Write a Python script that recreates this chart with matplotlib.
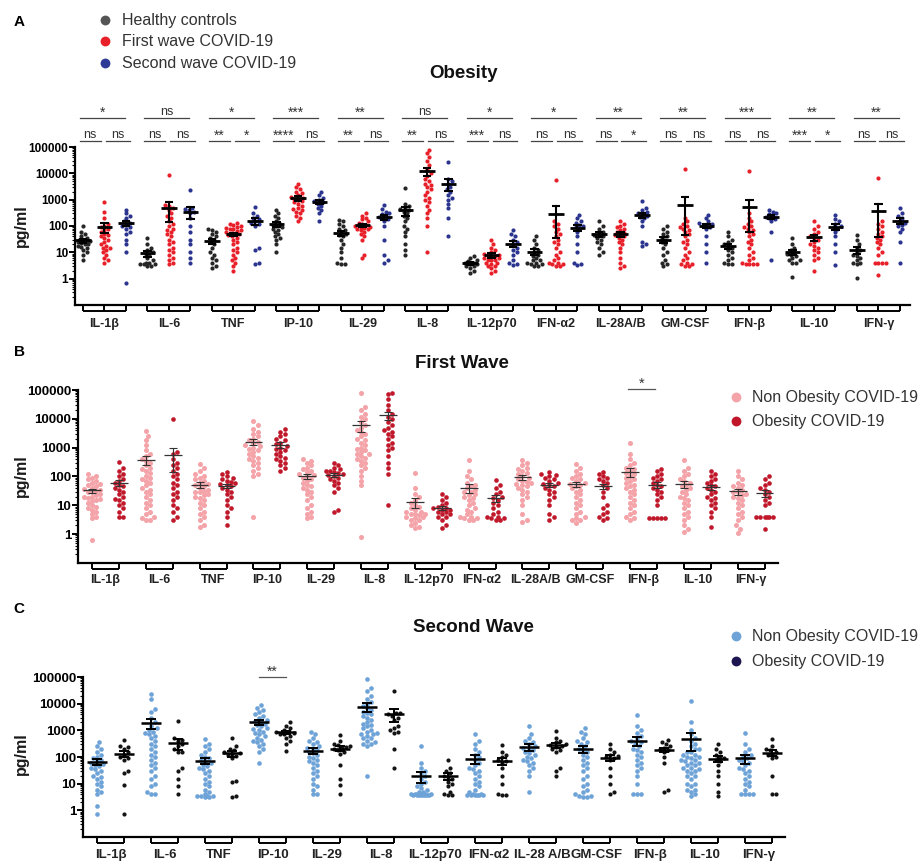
import numpy as np
import matplotlib
matplotlib.use('Agg')
import matplotlib.pyplot as plt
from matplotlib.ticker import FixedLocator, FixedFormatter, LogLocator, NullFormatter

plt.rcParams['font.family'] = ['Liberation Sans', 'DejaVu Sans']

# ---------------- data (pg/ml) ----------------
cytokines = ['IL-1β', 'IL-6', 'TNF', 'IP-10', 'IL-29', 'IL-8', 'IL-12p70',
             'IFN-α2', 'IL-28A/B', 'GM-CSF', 'IFN-β', 'IL-10', 'IFN-γ']
cytokines_c = ['IL-1β', 'IL-6', 'TNF', 'IP-10', 'IL-29', 'IL-8', 'IL-12p70',
               'IFN-α2', 'IL-28 A/B', 'GM-CSF', 'IFN-β', 'IL-10', 'IFN-γ']

sig_a_top = ['*', 'ns', '*', '***', '**', 'ns', '*', '*', '**', '**', '***', '**', '**']
sig_a_left = ['ns', 'ns', '**', '****', '**', '**', '***', 'ns', 'ns', 'ns', 'ns', '***', 'ns']
sig_a_right = ['ns', 'ns', '*', 'ns', 'ns', 'ns', 'ns', 'ns', '*', 'ns', 'ns', '*', 'ns']

# panel A: healthy / first wave / second wave (obese)
a_healthy = [
    [100, 60, 50, 40, 35, 30, 30, 28, 25, 25, 22, 20, 20, 18, 16, 15, 12, 10, 8, 5],
    [35, 20, 15, 12, 10, 9, 8, 6, 5, 4, 4, 3.5, 3.5, 3.5, 3, 3],
    [80, 70, 60, 50, 40, 35, 30, 25, 20, 15, 10, 8, 6, 5, 4, 3, 2.5],
    [420, 300, 250, 200, 150, 120, 110, 100, 90, 80, 70, 60, 50, 40, 35, 30, 20, 10],
    [170, 150, 120, 100, 80, 70, 60, 50, 45, 40, 30, 20, 15, 10, 6, 4, 3.5, 3.5],
    [2800, 700, 600, 500, 450, 400, 350, 300, 250, 200, 150, 100, 80, 60, 40, 20, 12, 8],
    [7, 6, 5, 4.5, 4, 4, 3.5, 3.5, 3, 3, 2.5, 2, 1.6],
    [40, 30, 20, 15, 12, 10, 8, 7, 6, 5, 5, 4, 4, 3.5, 3.5, 3, 3],
    [150, 100, 80, 60, 50, 45, 40, 35, 30, 25, 20, 15, 10, 8],
    [100, 80, 60, 50, 40, 35, 30, 25, 20, 15, 10, 8, 5, 4, 3.5, 3],
    [60, 40, 30, 25, 20, 18, 15, 12, 10, 8, 6, 5, 4, 3.5, 3.5],
    [35, 20, 15, 12, 10, 9, 8, 7, 6, 5, 5, 4, 4, 1.2],
    [47, 30, 20, 15, 12, 10, 8, 7, 6, 5, 4, 4, 3.5, 1.1],
]
a_first = [
    [850, 350, 200, 120, 100, 90, 80, 70, 60, 50, 45, 40, 35, 30, 25, 20, 18, 15, 15, 12, 10, 8, 6, 5, 4],
    [9000, 650, 600, 500, 400, 300, 250, 200, 150, 120, 100, 80, 70, 60, 50, 40, 30, 25, 20, 15, 12, 10, 8, 6, 5, 4, 3.5],
    [130, 120, 110, 100, 90, 85, 80, 75, 70, 65, 60, 55, 50, 50, 45, 40, 35, 30, 25, 20, 15, 12, 10, 8, 6, 5, 4, 3, 2],
    [4000, 3000, 2500, 2000, 1800, 1500, 1300, 1200, 1100, 1000, 900, 800, 700, 600, 500, 450, 400, 350, 300, 250, 200, 150],
    [300, 250, 200, 180, 150, 130, 120, 110, 100, 95, 90, 85, 80, 75, 70, 60, 50, 40, 30, 8, 6],
    [80000, 60000, 40000, 30000, 20000, 15000, 10000, 8000, 6000, 5000, 4000, 3500, 3000, 2500, 2000, 1500, 1200, 1000, 800, 600, 400, 300, 200, 100, 10],
    [30, 20, 15, 12, 10, 9, 8, 8, 7, 7, 6, 6, 5, 5, 5, 4, 4, 3.5, 3, 3, 2.5, 2, 1.7],
    [5700, 150, 120, 100, 80, 60, 50, 40, 30, 25, 20, 15, 10, 8, 6, 5, 4, 4, 3.5, 3.5, 3, 3],
    [150, 120, 100, 90, 80, 70, 60, 55, 50, 45, 40, 35, 30, 25, 20, 15, 10, 6, 4, 3, 2.5],
    [14500, 200, 150, 120, 100, 90, 80, 70, 60, 50, 40, 30, 25, 20, 15, 10, 8, 6, 5, 4, 3.5, 3.5, 3, 3],
    [12000, 300, 200, 150, 120, 100, 90, 80, 70, 60, 50, 40, 30, 25, 20, 15, 10, 8, 6, 5, 4, 3.5, 3.5, 3.5, 3.5],
    [150, 100, 80, 60, 50, 40, 35, 30, 25, 20, 18, 15, 12, 10, 8, 6, 5, 2],
    [6600, 150, 120, 100, 80, 60, 50, 40, 35, 30, 25, 20, 15, 10, 8, 4, 4, 4, 4, 1.4],
]
a_second = [
    [420, 300, 250, 200, 150, 130, 110, 100, 90, 80, 60, 50, 30, 20, 10, 0.7],
    [2400, 500, 450, 400, 350, 300, 200, 100, 60, 30, 20, 10, 6, 4],
    [550, 300, 250, 200, 180, 150, 130, 120, 100, 15, 12, 4, 3.5],
    [2000, 1500, 1200, 1000, 900, 800, 700, 600, 500, 400, 300, 150],
    [640, 450, 350, 300, 280, 250, 220, 200, 180, 150, 100, 30, 8, 5, 4],
    [28000, 6000, 5000, 4000, 3000, 2500, 2000, 1500, 1200, 1000, 700, 500, 200, 40],
    [70, 50, 40, 30, 25, 20, 15, 12, 10, 8, 5, 4, 3.5, 3.4],
    [270, 200, 150, 130, 110, 100, 90, 80, 60, 40, 20, 10, 4, 3.5, 3.4],
    [860, 500, 400, 350, 300, 280, 250, 220, 200, 150, 100, 25, 20, 17],
    [270, 200, 150, 130, 120, 110, 100, 90, 80, 40, 20, 10, 4],
    [420, 350, 300, 280, 250, 220, 200, 180, 150, 60, 5],
    [270, 180, 150, 120, 100, 90, 80, 60, 40, 20, 10, 3.4],
    [480, 300, 250, 200, 150, 130, 110, 100, 80, 60, 25, 4],
]

# panel B: first wave, non obese / obese
b_non = [
    [120, 100, 90, 80, 70, 60, 55, 50, 45, 40, 38, 35, 32, 30, 28, 25, 22, 20, 20, 18, 16, 15, 14, 12, 10, 9, 8, 7, 6, 5, 4, 3.5, 0.65],
    [3900, 2500, 1800, 1200, 800, 600, 500, 400, 350, 300, 250, 200, 180, 150, 130, 100, 90, 80, 70, 60, 50, 40, 35, 30, 25, 20, 15, 12, 10, 8, 6, 5, 4, 3.5, 3, 3],
    [280, 200, 150, 120, 100, 90, 80, 70, 60, 55, 50, 45, 40, 35, 32, 30, 28, 25, 22, 20, 18, 15, 12, 10, 8, 6, 5, 4, 3, 2, 1.8],
    [8500, 6000, 4500, 3500, 3000, 2500, 2000, 1800, 1600, 1400, 1200, 1100, 1000, 900, 800, 700, 600, 500, 450, 400, 350, 300, 250, 200, 150, 120, 100, 4],
    [400, 350, 300, 250, 200, 180, 160, 140, 120, 110, 100, 90, 80, 70, 60, 50, 45, 40, 35, 30, 25, 20, 15, 10, 8, 6, 5, 4, 3.5],
    [80000, 25000, 20000, 15000, 12000, 10000, 8000, 6000, 5000, 4000, 3500, 3000, 2500, 2000, 1800, 1500, 1200, 1000, 900, 800, 700, 600, 600, 500, 450, 400, 350, 300, 250, 200, 150, 100, 70, 50, 0.8],
    [130, 40, 25, 20, 15, 12, 10, 9, 8, 7, 6, 6, 5, 5, 5, 4.5, 4, 4, 3.5, 3, 3, 2.5, 2, 1.8, 1.6],
    [370, 150, 100, 80, 60, 50, 45, 40, 35, 30, 28, 25, 22, 20, 18, 15, 12, 10, 8, 7, 6, 5, 4, 4, 3.5, 3.5, 3, 3],
    [370, 300, 250, 200, 180, 150, 130, 120, 100, 90, 80, 70, 65, 60, 55, 50, 45, 40, 35, 30, 25, 20, 15, 10, 5, 3, 2.7],
    [280, 200, 150, 120, 100, 90, 80, 70, 60, 55, 50, 45, 40, 35, 30, 25, 20, 15, 12, 10, 8, 6, 5, 4, 3.5, 3, 3, 2.5],
    [1450, 600, 400, 300, 250, 200, 180, 150, 130, 120, 100, 90, 80, 70, 60, 50, 45, 40, 35, 30, 25, 20, 15, 12, 10, 8, 6, 5, 4, 3.5, 3],
    [370, 200, 150, 120, 100, 80, 70, 60, 50, 45, 40, 35, 30, 25, 20, 18, 15, 12, 10, 8, 6, 5, 4, 3, 2, 1.5, 1.2],
    [150, 100, 80, 60, 50, 45, 40, 35, 30, 28, 25, 22, 20, 18, 15, 12, 10, 8, 6, 5, 4, 3, 2, 1.5, 1.1],
]
b_ob = [
    [320, 200, 150, 120, 100, 80, 70, 60, 50, 45, 40, 35, 30, 25, 20, 16, 15, 12, 10, 8, 6, 4, 4],
    [9600, 700, 600, 400, 300, 250, 200, 150, 120, 100, 80, 60, 50, 40, 30, 25, 20, 15, 10, 8, 6, 4, 3],
    [140, 120, 100, 90, 80, 70, 65, 60, 55, 50, 45, 40, 35, 30, 25, 20, 15, 10, 8, 6, 4, 2],
    [4500, 3500, 3000, 2500, 2000, 1800, 1500, 1300, 1100, 1000, 900, 800, 700, 600, 500, 450, 400, 350, 300, 250, 200, 150],
    [300, 250, 200, 180, 160, 150, 140, 130, 120, 110, 100, 90, 80, 70, 60, 50, 40, 30, 7, 6],
    [80000, 75000, 50000, 30000, 20000, 15000, 12000, 10000, 8000, 6000, 5000, 4000, 3500, 3000, 2500, 2000, 1500, 1200, 1000, 800, 500, 300, 200, 120, 10],
    [25, 20, 15, 12, 10, 9, 8, 8, 7, 7, 6, 6, 5, 5, 4, 4, 3, 2, 1.6],
    [75, 50, 40, 30, 25, 20, 18, 15, 12, 10, 8, 6, 5, 4, 4, 3.5, 3.5, 3, 3],
    [140, 120, 110, 100, 90, 80, 70, 60, 55, 50, 45, 40, 35, 30, 25, 20, 15, 10, 5, 4, 3],
    [140, 120, 100, 90, 80, 70, 60, 50, 40, 30, 20, 10, 8, 6, 5, 4, 3.5, 3],
    [175, 150, 120, 100, 90, 80, 70, 60, 50, 45, 40, 35, 30, 25, 20, 15, 10, 3.5, 3.5, 3.5, 3.5, 3.5],
    [150, 120, 100, 80, 70, 60, 50, 45, 40, 35, 30, 25, 20, 18, 15, 12, 10, 8, 6, 4, 1.8],
    [100, 80, 60, 50, 40, 35, 30, 25, 20, 15, 12, 10, 4, 4, 4, 4, 4, 4, 1.5],
]

# panel C: second wave, non obese / obese
c_non = [
    [350, 250, 200, 150, 120, 100, 90, 80, 70, 60, 55, 50, 45, 40, 35, 30, 25, 20, 18, 15, 12, 10, 8, 6, 5, 4, 1.5, 0.7],
    [23000, 15000, 6500, 5000, 3000, 2000, 1500, 1200, 1000, 900, 800, 700, 600, 500, 400, 300, 250, 200, 150, 120, 100, 80, 60, 50, 40, 30, 20, 15, 10, 8, 5, 4, 4],
    [490, 300, 250, 200, 150, 120, 100, 90, 80, 70, 60, 50, 45, 40, 35, 30, 25, 20, 15, 12, 10, 8, 6, 5, 4, 3.5, 3.5, 3.5, 3.5, 3.2, 3.2],
    [9000, 7000, 6000, 5000, 4000, 3500, 3000, 2500, 2200, 2000, 1800, 1600, 1400, 1200, 1100, 1000, 900, 800, 700, 600, 500, 450, 400, 350, 300, 250, 200, 150, 60],
    [900, 700, 500, 400, 350, 300, 250, 220, 200, 180, 160, 140, 120, 100, 90, 80, 70, 60, 50, 40, 30, 25, 20, 15, 10, 8, 6, 4, 4],
    [85000, 40000, 30000, 20000, 15000, 12000, 10000, 8000, 7000, 6000, 5000, 4500, 4000, 3500, 3000, 2500, 2000, 1800, 1600, 1400, 1200, 1000, 900, 800, 700, 700, 600, 500, 500, 400, 350, 300, 300, 250, 20],
    [250, 60, 40, 30, 25, 20, 15, 12, 10, 8, 7, 6, 5, 5, 4, 4, 4, 4, 4, 4, 3.8, 3.8, 3.8, 3.8, 3.8, 3.6, 3.6, 3.6],
    [750, 400, 300, 200, 150, 120, 100, 80, 60, 50, 40, 35, 30, 25, 20, 15, 12, 10, 8, 6, 5, 4, 4, 3.6, 3.6, 3.6, 3.6, 3.6, 3.6],
    [1400, 700, 500, 400, 350, 300, 250, 220, 200, 180, 160, 140, 120, 100, 90, 80, 70, 60, 50, 40, 30, 20, 5],
    [1200, 900, 700, 500, 400, 350, 300, 250, 200, 180, 150, 120, 100, 80, 60, 50, 40, 30, 20, 15, 10, 8, 6, 5, 4, 3.5, 3.5, 3.2, 3.2],
    [3600, 1500, 1000, 800, 600, 500, 400, 350, 300, 250, 200, 180, 150, 120, 100, 80, 60, 50, 40, 30, 20, 10, 4, 4, 4],
    [13000, 2000, 1000, 700, 500, 400, 300, 250, 200, 200, 150, 150, 120, 120, 100, 100, 90, 80, 80, 70, 60, 60, 50, 50, 40, 40, 35, 30, 30, 25, 20, 20, 15, 10, 10, 8, 6, 6, 5, 4, 3.5],
    [800, 300, 200, 150, 120, 100, 90, 80, 70, 60, 50, 40, 35, 30, 25, 20, 15, 12, 10, 8, 6, 4, 4, 4, 4],
]
c_ob = [
    [420, 250, 230, 200, 150, 120, 100, 90, 80, 30, 25, 9, 0.7],
    [2200, 500, 450, 400, 300, 250, 200, 150, 150, 40, 30, 15, 8, 4],
    [530, 250, 200, 180, 150, 140, 130, 120, 110, 90, 13, 12, 3.5, 3.3],
    [2000, 1500, 1200, 1000, 900, 850, 800, 750, 700, 600, 500, 400, 300, 170],
    [650, 400, 300, 280, 250, 230, 220, 200, 180, 150, 130, 50, 15, 9, 4],
    [30000, 4500, 4500, 4000, 3500, 3000, 2500, 1500, 1200, 1000, 900, 800, 200, 40],
    [75, 40, 30, 25, 20, 18, 15, 12, 10, 8, 5, 4, 3.6, 3.6],
    [270, 150, 120, 100, 80, 70, 60, 40, 20, 10, 4, 3.6, 3.6],
    [950, 500, 400, 350, 300, 280, 250, 230, 200, 180, 150, 40, 30, 20],
    [300, 200, 150, 120, 110, 100, 90, 80, 40, 20, 10, 5, 4],
    [420, 350, 300, 250, 220, 200, 180, 150, 100, 60, 6, 5],
    [300, 200, 150, 120, 100, 90, 80, 70, 50, 30, 20, 10, 5, 3.4],
    [490, 250, 200, 180, 150, 130, 120, 100, 90, 20, 4, 4],
]

# ---------------- figure ----------------
W, H = 921, 863
fig = plt.figure(figsize=(W / 100, H / 100), dpi=100)


def px_axes(left, top, right, bottom):
    return fig.add_axes([left / W, 1 - bottom / H, (right - left) / W, (bottom - top) / H])


def style_axis(ax, xlim, npos, ylab_fs):
    ax.set_yscale('log')
    ax.set_ylim(0.1, 1e5)
    ax.set_xlim(*xlim)
    for s in ['top', 'right']:
        ax.spines[s].set_visible(False)
    for s in ['left', 'bottom']:
        ax.spines[s].set_linewidth(1.6)
    ax.yaxis.set_major_locator(FixedLocator([1, 10, 100, 1000, 10000, 100000]))
    ax.yaxis.set_major_formatter(FixedFormatter(['1', '10', '100', '1000', '10000', '100000']))
    ax.yaxis.set_minor_locator(LogLocator(base=10, subs=np.arange(2, 10) * 1.0, numticks=20))
    ax.yaxis.set_minor_formatter(NullFormatter())
    ax.tick_params(axis='y', which='major', length=4, width=1.4, labelsize=ylab_fs, pad=1)
    ax.tick_params(axis='y', which='minor', length=2, width=0.8)
    ax.set_xticks(range(npos))
    ax.set_xticklabels([])
    ax.tick_params(axis='x', length=4.5, width=1.4)
    for lab in ax.get_yticklabels():
        lab.set_fontweight('bold')
    ax.patch.set_alpha(0)


def group_brackets(ax, groups, labels, ax_h_px, label_dy, fs):
    yb = -6.2 / ax_h_px
    for pos, lab in zip(groups, labels):
        ax.plot([pos[0], pos[-1]], [yb, yb], color='k', lw=1.4,
                transform=ax.get_xaxis_transform(), clip_on=False, solid_capstyle='butt')
        ax.annotate(lab, xy=(np.mean(pos), 0), xycoords=ax.get_xaxis_transform(),
                    xytext=(0, -label_dy), textcoords='offset points',
                    ha='center', va='center', fontsize=fs, fontweight='bold', color='#222222')


def swarm(ax, xc, vals, color, d_px, half_px, size):
    v = np.sort(np.asarray(vals, dtype=float))
    pts = ax.transData.transform(np.column_stack([np.full(len(v), xc), v]))
    x0 = pts[0, 0]
    step = d_px * 0.5
    cands = [0.0]
    k = 1
    while k * step <= half_px:
        cands += [k * step, -k * step]
        k += 1
    placed = []
    offs = []
    for y in pts[:, 1]:
        chosen = None
        best, best_md = 0.0, -1
        near = [(px, py) for px, py in placed if abs(y - py) < d_px]
        for c in cands:
            md = min([np.hypot(c - px, y - py) for px, py in near], default=1e9)
            if md >= d_px:
                chosen = c
                break
            if md > best_md:
                best, best_md = c, md
        if chosen is None:
            chosen = best
        placed.append((chosen, y))
        offs.append(chosen)
    xy = ax.transData.inverted().transform(np.column_stack([x0 + np.array(offs), pts[:, 1]]))
    ax.scatter(xy[:, 0], v, s=size, c=color, linewidths=0, zorder=3, clip_on=False)


def mean_sem(ax, xc, vals, half_w, cap_w, lw, color, elw):
    v = np.asarray(vals, dtype=float)
    m = v.mean()
    se = v.std(ddof=1) / np.sqrt(len(v))
    lo = m - se if m - se > 0 else m * 0.6
    hi = m + se
    ax.plot([xc - half_w, xc + half_w], [m, m], color=color, lw=lw, zorder=5, solid_capstyle='butt')
    ax.plot([xc, xc], [lo, hi], color=color, lw=elw, zorder=5)
    for yy in (lo, hi):
        ax.plot([xc - cap_w, xc + cap_w], [yy, yy], color=color, lw=elw, zorder=5, solid_capstyle='butt')


# ---------------- panel A ----------------
axA = px_axes(75, 147, 910, 305)
style_axis(axA, (-0.37, 38.47), 39, 8.5)
colA = ['#262626', '#E8202A', '#2B3590']
for i in range(13):
    for j, series in enumerate([a_healthy, a_first, a_second]):
        xc = 3 * i + j
        swarm(axA, xc, series[i], colA[j], 3.6, 8.5, 9)
        mean_sem(axA, xc, series[i], 0.36, 0.2, 2.0, 'black', 1.5)
group_brackets(axA, [[3 * i, 3 * i + 1, 3 * i + 2] for i in range(13)], cytokines, 158, 14, 9)

xt = axA.get_xaxis_transform()
y1 = 1 + 29 / 158
y2 = 1 + 6 / 158
for i in range(13):
    p0, p1, p2 = 3 * i, 3 * i + 1, 3 * i + 2
    segs = [(p0 - 0.15, p2 - 0.05, y1, sig_a_top[i]),
            (p0 - 0.15, p1 - 0.18, y2, sig_a_left[i]),
            (p1 + 0.05, p2 + 0.2, y2, sig_a_right[i])]
    for xa, xb, yy, lab in segs:
        axA.plot([xa, xb], [yy, yy], color='#444444', lw=0.9, transform=xt, clip_on=False)
        if lab == 'ns':
            axA.annotate(lab, xy=((xa + xb) / 2, yy), xycoords=xt, xytext=(0, 0.3),
                         textcoords='offset points', ha='center', va='bottom',
                         fontsize=9, color='#333333')
        else:
            axA.annotate(lab, xy=((xa + xb) / 2, yy), xycoords=xt, xytext=(0, -1.5),
                         textcoords='offset points', ha='center', va='bottom',
                         fontsize=10, color='#333333')

# ---------------- panel B ----------------
axB = px_axes(78, 390, 778, 563)
style_axis(axB, (-0.52, 25.5), 26, 9.5)
colB = ['#F4A3A8', '#C0182A']
for i in range(13):
    for j, series in enumerate([b_non, b_ob]):
        xc = 2 * i + j
        swarm(axB, xc, series[i], colB[j], 4.2, 10.5, 13 if j == 0 else 11)
        mean_sem(axB, xc, series[i], 0.33, 0.15, 0.9, '#333333', 0.8)
group_brackets(axB, [[2 * i, 2 * i + 1] for i in range(13)], cytokines, 173, 12, 9)
xtB = axB.get_xaxis_transform()
axB.plot([19.93, 20.93], [1.005, 1.005], color='#555555', lw=0.9, transform=xtB, clip_on=False)
axB.annotate('*', xy=(20.43, 1.005), xycoords=xtB, xytext=(0, -1.5), textcoords='offset points',
             ha='center', va='bottom', fontsize=10.5, color='#333333')

# ---------------- panel C ----------------
axC = px_axes(83, 677, 785, 837)
style_axis(axC, (-0.52, 25.48), 26, 9.5)
colC = ['#6EA3D8', '#141414']
for i in range(13):
    for j, series in enumerate([c_non, c_ob]):
        xc = 2 * i + j
        swarm(axC, xc, series[i], colC[j], 4.0, 10.5, 11 if j == 0 else 9)
        mean_sem(axC, xc, series[i], 0.36, 0.2, 1.8, 'black', 1.4)
group_brackets(axC, [[2 * i, 2 * i + 1] for i in range(13)], cytokines_c, 160, 13, 9.5)
xtC = axC.get_xaxis_transform()
axC.plot([5.98, 7.0], [1.0, 1.0], color='#555555', lw=0.9, transform=xtC, clip_on=False)
axC.annotate('**', xy=(6.49, 1.0), xycoords=xtC, xytext=(0, -1.5), textcoords='offset points',
             ha='center', va='bottom', fontsize=10, color='#333333')

# ---------------- overlay: titles, legends, labels ----------------
ov = fig.add_axes([0, 0, 1, 1])
ov.set_xlim(0, W)
ov.set_ylim(H, 0)
ov.axis('off')

for lab, (x, y) in zip(['A', 'B', 'C'], [(19, 22), (19, 352), (19, 609)]):
    ov.text(x, y, lab, ha='center', va='center', fontsize=11, fontweight='bold')
for lab, (x, y) in zip(['Obesity', 'First Wave', 'Second Wave'], [(463, 73), (462, 363), (473, 627)]):
    ov.text(x, y, lab, ha='center', va='center', fontsize=13.5, fontweight='bold', color='#111111')
for y in (226, 476, 754):
    ov.text(21, y, 'pg/ml', ha='center', va='center', rotation=90, fontsize=11.5,
            fontweight='bold', color='#1a1a1a')

leg_a = ['Healthy controls', 'First wave COVID-19', 'Second wave COVID-19']
for lab, col, y in zip(leg_a, ['#555555', '#E8202A', '#2F3A97'], [20, 41, 63]):
    ov.scatter([105], [y], s=50, c=col, linewidths=0)
    ov.text(122, y, lab, ha='left', va='center', fontsize=11.5, color='#333333')
for lab, col, y in zip(['Non Obesity COVID-19', 'Obesity COVID-19'], ['#F4A3A8', '#C0182A'], [397, 421]):
    ov.scatter([736], [y], s=50, c=col, linewidths=0)
    ov.text(752, y, lab, ha='left', va='center', fontsize=11.5, color='#333333')
for lab, col, y in zip(['Non Obesity COVID-19', 'Obesity COVID-19'], ['#6EA3D8', '#1C1550'], [636, 661]):
    ov.scatter([736], [y], s=50, c=col, linewidths=0)
    ov.text(752, y, lab, ha='left', va='center', fontsize=11.5, color='#333333')

fig.savefig('out.png', dpi=100)
